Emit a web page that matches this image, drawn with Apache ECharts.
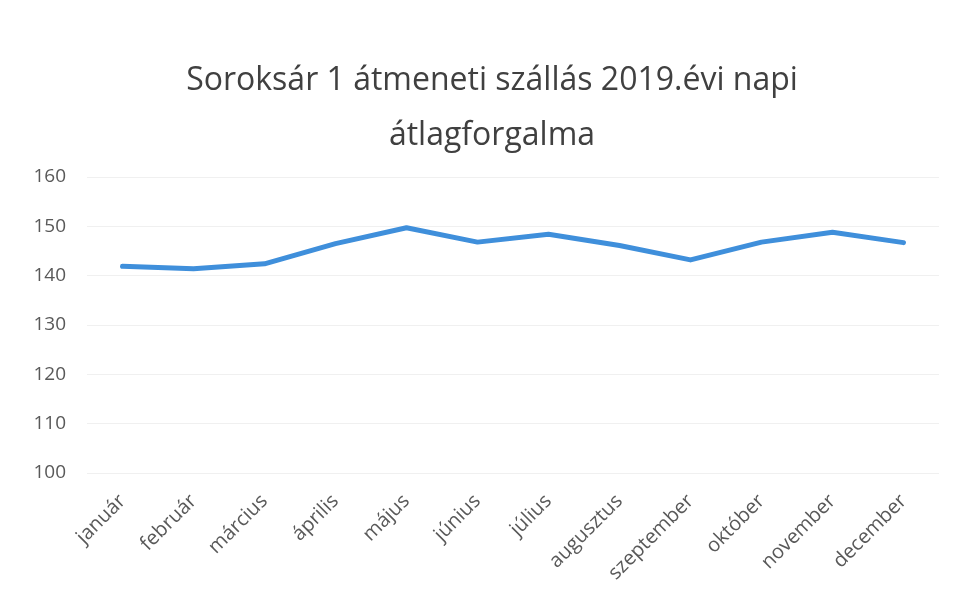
<!DOCTYPE html>
<html>
<head>
<meta charset="utf-8">
<script src="https://cdn.jsdelivr.net/npm/echarts@6/dist/echarts.min.js"></script>
<style>
  html, body { margin: 0; padding: 0; background: #fff; }
  #chart { width: 956px; height: 600px; }
</style>
</head>
<body>
<div id="chart"></div>
<script>
var months = ['január', 'február', 'március', 'április', 'május', 'június',
  'július', 'augusztus', 'szeptember', 'október', 'november', 'december'];
var dailyAvg = [141.9, 141.4, 142.4, 146.5, 149.7, 146.8, 148.4, 146.1, 143.2, 146.8, 148.8, 146.7];
var yTicks = [100, 110, 120, 130, 140, 150, 160];

var chart = echarts.init(document.getElementById('chart'));
chart.setOption({
  backgroundColor: '#ffffff',
  animation: false,
  title: {
    text: 'Soroksár 1 átmeneti szállás 2019.évi napi\nátlagforgalma',
    left: 487,
    top: 48,
    textAlign: 'center',
    textStyle: {
      fontFamily: 'Open Sans',
      fontSize: 32,
      fontWeight: 'normal',
      color: '#404040',
      lineHeight: 55
    }
  },
  grid: { left: 87, right: 17, top: 177, bottom: 127 },
  xAxis: {
    type: 'category',
    data: months,
    boundaryGap: true,
    axisLine: { show: false },
    axisTick: { show: false },
    axisLabel: {
      rotate: 45,
      margin: 25,
      interval: 0,
      fontFamily: 'Open Sans',
      fontSize: 20,
      color: '#595959'
    }
  },
  yAxis: {
    type: 'value',
    min: yTicks[0],
    max: yTicks[yTicks.length - 1],
    interval: 10,
    axisLine: { show: false },
    axisTick: { show: false },
    axisLabel: {
      margin: 21,
      fontFamily: 'Open Sans',
      fontSize: 19,
      color: '#595959'
    },
    splitLine: { lineStyle: { color: '#f0f0f0', width: 1 } }
  },
  series: [{
    type: 'line',
    data: dailyAvg,
    symbol: 'none',
    lineStyle: { color: '#3f8fdb', width: 5, cap: 'round', join: 'round' }
  }]
});
</script>
</body>
</html>
